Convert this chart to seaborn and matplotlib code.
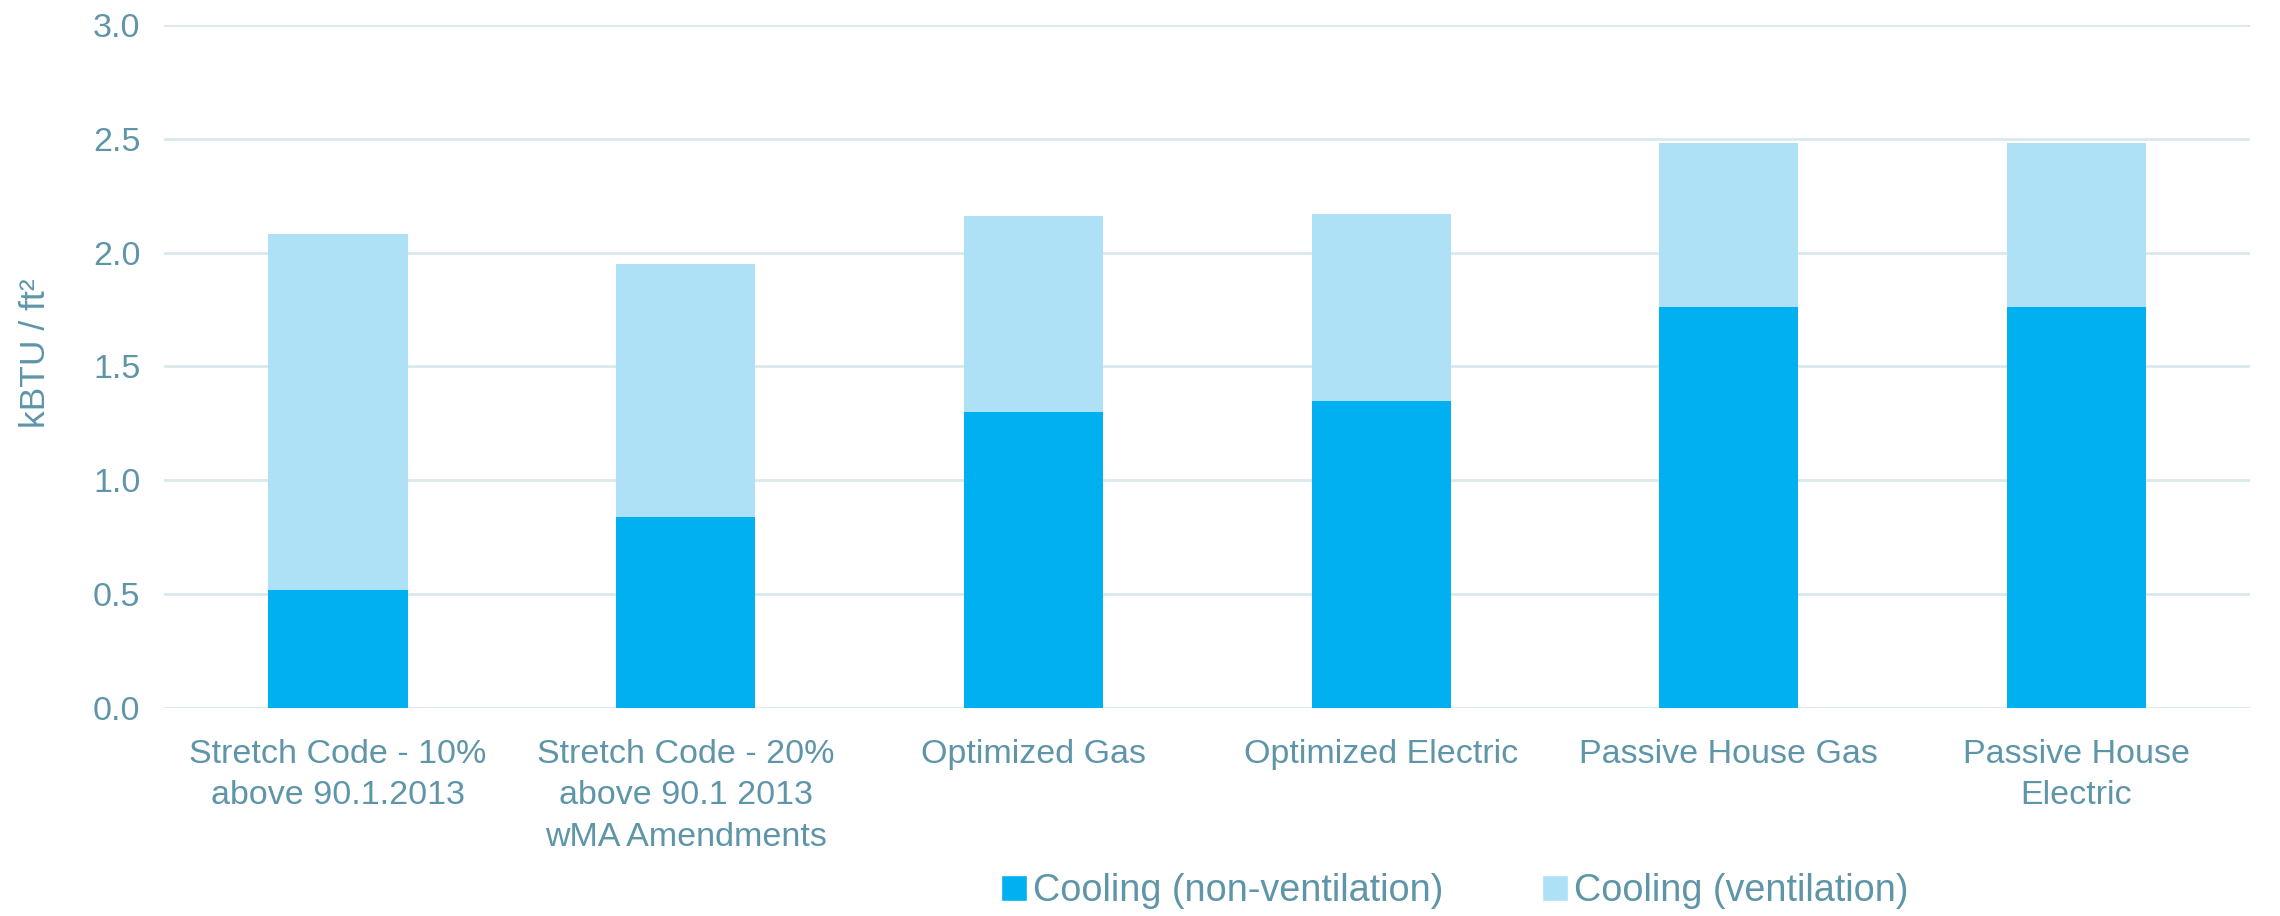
import numpy as np
import pandas as pd
import matplotlib
matplotlib.use("Agg")
import matplotlib.pyplot as plt
from matplotlib import font_manager
from matplotlib.patches import Patch
import seaborn as sns

# ==========================================
# DATA
# ==========================================
scenarios = [
    "Stretch Code - 10%\nabove 90.1.2013",
    "Stretch Code - 20%\nabove 90.1 2013\nwMA Amendments",
    "Optimized Gas",
    "Optimized Electric",
    "Passive House Gas",
    "Passive House\nElectric",
]
cooling_non_vent = [0.52, 0.84, 1.30, 1.35, 1.76, 1.76]
cooling_vent = [1.56, 1.11, 0.86, 0.82, 0.72, 0.72]
y_ticks = [0.0, 0.5, 1.0, 1.5, 2.0, 2.5, 3.0]

DARK = "#00B0F0"
LIGHT = "#AEE1F5"
TEXT = "#5E95A8"
GRID = "#D9E8EC"

df = pd.DataFrame({
    "scenario": scenarios,
    "non_vent": cooling_non_vent,
    "vent": cooling_vent,
})
df["total"] = df["non_vent"] + df["vent"]

# ==========================================
# FONTS
# ==========================================
sns.set_theme(style="white")
installed = {f.name for f in font_manager.fontManager.ttflist}
narrow = "Liberation Sans Narrow" if "Liberation Sans Narrow" in installed else "Liberation Sans"
narrow_scale = 1.0 if narrow == "Liberation Sans Narrow" else 0.85
plt.rcParams["font.family"] = ["Liberation Sans", "DejaVu Sans"]

# ==========================================
# PLOT
# ==========================================
fig = plt.figure(figsize=(22.8, 9.16), dpi=100)
ax = fig.add_axes([0.072, 0.227, 0.915, 0.746])

# stacked bars: draw total (light) then the bottom part (dark) on top
sns.barplot(data=df, x="scenario", y="total", color=LIGHT, width=0.4,
            saturation=1, linewidth=0, ax=ax, zorder=2)
sns.barplot(data=df, x="scenario", y="non_vent", color=DARK, width=0.4,
            saturation=1, linewidth=0, ax=ax, zorder=3)

ax.set_ylim(0, 3.0)
ax.set_xlim(-0.5, len(scenarios) - 0.5)
ax.set_yticks(y_ticks)
ax.set_yticklabels([f"{v:.1f}" for v in y_ticks])
ax.yaxis.grid(True, color=GRID, linewidth=2)
ax.set_axisbelow(True)
for s in ax.spines.values():
    s.set_visible(False)

ax.tick_params(axis="both", length=0, colors=TEXT, labelsize=24.5)
ax.tick_params(axis="x", pad=22)
ax.tick_params(axis="y", pad=17)
for lbl in ax.get_xticklabels():
    lbl.set_linespacing(1.45)

ax.set_xlabel("")
ax.set_ylabel("kBTU / ft²", color=TEXT, fontsize=30 * narrow_scale,
              family=[narrow, "DejaVu Sans"])
ax.yaxis.set_label_coords(-0.054, 0.52)

handles = [Patch(facecolor=DARK, label="Cooling (non-ventilation)"),
           Patch(facecolor=LIGHT, label="Cooling (ventilation)")]
leg = fig.legend(handles=handles, loc="center", bbox_to_anchor=(0.638, 0.027),
                 ncol=2, frameon=False, handlelength=0.7, handleheight=0.7,
                 handletextpad=0.15, columnspacing=2.6,
                 prop={"family": [narrow, "DejaVu Sans"], "size": 32 * narrow_scale})
for t in leg.get_texts():
    t.set_color(TEXT)

plt.savefig("out.png", dpi=100)
